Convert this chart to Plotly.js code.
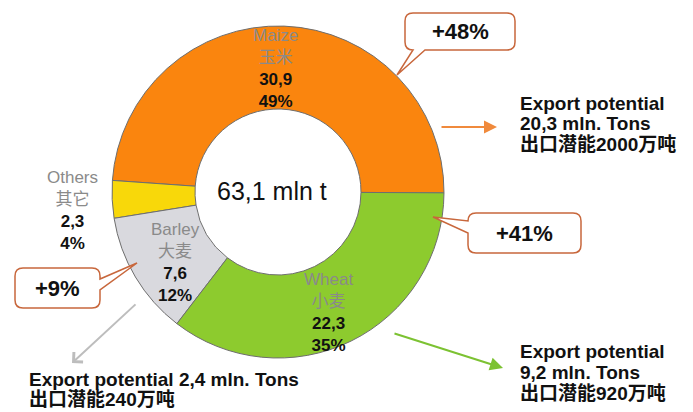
<!DOCTYPE html>
<html>
<head>
<meta charset="utf-8">
<script src="https://cdn.plot.ly/plotly-3.0.1.min.js"></script>
<style>
  html, body { margin: 0; padding: 0; background: #ffffff; }
  #chart { width: 693px; height: 412px; }
</style>
</head>
<body>
<div id="chart"></div>
<script>
// ---- data ----
const crops    = ['Maize', 'Others', 'Barley', 'Wheat'];
const cropsCn  = ['玉米', '其它', '大麦', '小麦'];
const volumes  = [30.9, 2.3, 7.6, 22.3];   // mln t
const shares   = [49, 4, 12, 35];          // %
const totalMln = 63.1;

const growthCrops = ['Maize', 'Wheat', 'Barley'];
const growthPct   = [48, 41, 9];

const exportCrops = ['Maize', 'Wheat', 'Barley'];
const exportMln   = [20.3, 9.2, 2.4];
const exportWan   = [2000, 920, 240];     // 万吨

// ---- styling ----
const cropColors = ['#FA850E', '#F8D80A', '#D9D9DE', '#8DCB2E'];
const W = 693, H = 412;
const fx = x => x / W;
const fy = y => 1 - y / H;
const comma = v => v.toFixed(1).replace('.', ',');
const LAT = 'Liberation Sans, Arial, Noto Sans CJK SC, sans-serif';
const GREY = '#8a8a8a';

const pie = {
    type: 'pie',
    labels: crops,
    values: volumes,
    hole: 0.5,
    sort: false,
    direction: 'counterclockwise',
    rotation: -86,
    marker: { colors: cropColors, line: { color: '#6e6e6e', width: 1 } },
    textinfo: 'none',
    hoverinfo: 'label+value+percent',
    domain: { x: [fx(112), fx(444)], y: [fy(358), fy(26)] },
    showlegend: false
};

// label blocks: name / chinese name / value / share
const labelPos = { Maize: [275, 68], Others: [72, 210], Barley: [175, 262], Wheat: [328, 312] };
const annotations = crops.map((c, i) => ({
    xref: 'paper', yref: 'paper', showarrow: false,
    x: fx(labelPos[c][0]), y: fy(labelPos[c][1]),
    xanchor: 'center', yanchor: 'middle', align: 'center',
    font: { family: LAT, size: 17, color: '#111' },
    text: `<span style="color:${GREY}">${c}</span><br>` +
          `<span style="color:${GREY}">${cropsCn[i]}</span><br>` +
          `<b>${comma(volumes[i])}</b><br><b>${shares[i]}%</b>`
}));

// centre total
annotations.push({
    xref: 'paper', yref: 'paper', showarrow: false,
    x: fx(272), y: fy(191), xanchor: 'center', yanchor: 'middle',
    font: { family: LAT, size: 25, color: '#111' },
    text: `${comma(totalMln)} mln t`
});

// growth call-outs
const boxes = {
    Maize:  { box: [405, 13, 515, 50], side: 'bottom', a: 413, b: 425, tip: [397, 75] },
    Wheat:  { box: [468, 213, 581, 253], side: 'left', a: 221, b: 233, tip: [433, 217] },
    Barley: { box: [15, 268, 100, 308], side: 'right', a: 279, b: 290, tip: [137, 263] }
};

function bubblePath(o) {
    const [x0, y0, x1, y1] = o.box, r = 8;
    const P = (x, y) => `${fx(x)},${fy(y)}`;
    const t = P(o.tip[0], o.tip[1]);
    let d = `M${P(x0 + r, y0)} L${P(x1 - r, y0)} Q${P(x1, y0)} ${P(x1, y0 + r)}`;
    if (o.side === 'right') d += ` L${P(x1, o.a)} L${t} L${P(x1, o.b)}`;
    d += ` L${P(x1, y1 - r)} Q${P(x1, y1)} ${P(x1 - r, y1)}`;
    if (o.side === 'bottom') d += ` L${P(o.b, y1)} L${t} L${P(o.a, y1)}`;
    d += ` L${P(x0 + r, y1)} Q${P(x0, y1)} ${P(x0, y1 - r)}`;
    if (o.side === 'left') d += ` L${P(x0, o.b)} L${t} L${P(x0, o.a)}`;
    d += ` L${P(x0, y0 + r)} Q${P(x0, y0)} ${P(x0 + r, y0)} Z`;
    return d;
}

const shapes = growthCrops.map(c => ({
    type: 'path', xref: 'paper', yref: 'paper',
    path: bubblePath(boxes[c]),
    fillcolor: '#ffffff', line: { color: '#C8673C', width: 1.5 }
}));

growthCrops.forEach((c, i) => {
    const [x0, y0, x1, y1] = boxes[c].box;
    annotations.push({
        xref: 'paper', yref: 'paper', showarrow: false,
        x: fx((x0 + x1) / 2), y: fy((y0 + y1) / 2),
        xanchor: 'center', yanchor: 'middle',
        font: { family: LAT, size: 22, color: '#111' },
        text: `<b>+${growthPct[i]}%</b>`
    });
});

// export potential arrows + texts (one annotation per line)
const arrows = {
    Maize:  { from: [440, 127], to: [497, 127], color: '#F08A3C', head: 2 },
    Wheat:  { from: [393, 333], to: [503, 368], color: '#7CC232', head: 2 },
    Barley: { from: [137, 303], to: [72, 363], color: '#BDBDBD', head: 4 }
};
const exportText = {
    Maize:  { x: 518, y: 103, gap: 21, oneLine: false },
    Wheat:  { x: 518, y: 351, gap: 21, oneLine: false },
    Barley: { x: 27, y: 379, gap: 20, oneLine: true }
};

exportCrops.forEach((c, i) => {
    const a = arrows[c];
    annotations.push({
        xref: 'paper', yref: 'paper', text: '',
        x: fx(a.to[0]), y: fy(a.to[1]),
        axref: 'pixel', ayref: 'pixel',
        ax: a.from[0] - a.to[0], ay: a.from[1] - a.to[1],
        showarrow: true, arrowhead: a.head, arrowsize: 1.3, arrowwidth: 2,
        arrowcolor: a.color, standoff: 0
    });
    const t = exportText[c];
    const lines = t.oneLine
        ? [`Export potential ${comma(exportMln[i])} mln. Tons`]
        : ['Export potential', `${comma(exportMln[i])} mln. Tons`];
    lines.push(`出口潜能${exportWan[i]}万吨`);
    lines.forEach((ln, k) => {
        annotations.push({
            xref: 'paper', yref: 'paper', showarrow: false,
            x: fx(t.x), y: fy(t.y + k * t.gap), xanchor: 'left', yanchor: 'middle', align: 'left',
            font: { family: LAT, size: 19, color: '#111' },
            text: `<b>${ln}</b>`
        });
    });
});

const layout = {
    width: W, height: H,
    margin: { l: 0, r: 0, t: 0, b: 0 },
    paper_bgcolor: '#ffffff',
    showlegend: false,
    shapes: shapes,
    annotations: annotations
};

Plotly.newPlot('chart', [pie], layout, { displayModeBar: false, staticPlot: true });
</script>
</body>
</html>
